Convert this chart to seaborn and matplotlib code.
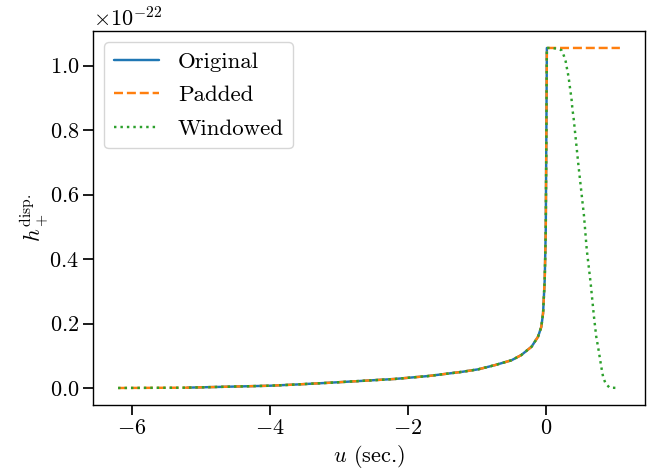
import numpy as np
import pandas as pd
import matplotlib
matplotlib.use("Agg")
import matplotlib.pyplot as plt
import seaborn as sns

# ---- data (h in units of 1e-22) ----
scale = 1e-22
u_original = [-5.2, -4.8, -4.4, -4.0, -3.6, -3.16, -2.67, -2.19, -1.71, -1.22,
              -0.98, -0.74, -0.50, -0.36, -0.21, -0.116, -0.068, -0.043,
              -0.019, -0.004, 0.005, 0.012]
h_original = [0.001, 0.003, 0.005, 0.007, 0.011, 0.016, 0.022, 0.028, 0.037, 0.050,
              0.058, 0.071, 0.086, 0.102, 0.128, 0.159, 0.19, 0.232,
              0.336, 0.49, 0.80, 1.055]

u_pad_left = [-6.2]
h_pad_left = [0.0]
u_pad_right = [1.07]
h_pad_right = [1.055]

u_taper = [0.06, 0.16, 0.225, 0.26, 0.285, 0.30, 0.318, 0.332, 0.354, 0.368,
           0.383, 0.397, 0.47, 0.55, 0.59, 0.607, 0.646, 0.694, 0.727, 0.762,
           0.80, 0.828, 0.863, 0.92, 1.06]
h_taper = [1.055, 1.053, 1.048, 1.03, 1.013, 0.995, 0.975, 0.956, 0.92, 0.90,
           0.863, 0.843, 0.69, 0.534, 0.429, 0.398, 0.326, 0.222, 0.16, 0.117,
           0.066, 0.033, 0.014, 0.001, 0.0]

u_padded = u_pad_left + u_original + u_pad_right
h_padded = h_pad_left + h_original + h_pad_right
u_windowed = u_pad_left + u_original + u_taper
h_windowed = h_pad_left + h_original + h_taper

sns.set_theme(style="ticks")
plt.rcParams.update({
    "font.family": "serif",
    "font.serif": ["cmr10"],
    "mathtext.fontset": "cm",
    "axes.formatter.use_mathtext": True,
    "axes.unicode_minus": True,
    "font.size": 16,
    "axes.labelsize": 16,
    "xtick.labelsize": 16,
    "ytick.labelsize": 16,
    "legend.fontsize": 16.5,
    "axes.linewidth": 1.0,
    "axes.edgecolor": "black",
    "text.color": "black",
    "axes.labelcolor": "black",
    "xtick.color": "black",
    "ytick.color": "black",
    "xtick.major.size": 7,
    "ytick.major.size": 7,
    "xtick.major.width": 1.25,
    "ytick.major.width": 1.25,
    "xtick.major.pad": 2.5,
    "ytick.major.pad": 3.0,
})

fig = plt.figure(figsize=(6.49, 4.69), dpi=100)
ax = fig.add_axes([0.1433, 0.1365, 0.9938 - 0.1433, 0.934 - 0.1365])

pal = sns.color_palette("tab10")
sns.lineplot(x=np.array(u_original), y=np.array(h_original) * scale, ax=ax,
             color=pal[0], lw=1.75, linestyle="-", label="Original",
             sort=False, estimator=None)
sns.lineplot(x=np.array(u_padded), y=np.array(h_padded) * scale, ax=ax,
             color=pal[1], lw=1.75, linestyle="--", label="Padded",
             sort=False, estimator=None)
sns.lineplot(x=np.array(u_windowed), y=np.array(h_windowed) * scale, ax=ax,
             color=pal[2], lw=1.75, linestyle=":", label="Windowed",
             sort=False, estimator=None)

ax.set_xlabel(r"$u$ (sec.)", labelpad=4)
ax.set_ylabel(r"$h_+^{\rm disp.}$", labelpad=-1)
ax.set_xticks([-6, -4, -2, 0])
ax.set_yticks(np.array([0.0, 0.2, 0.4, 0.6, 0.8, 1.0]) * scale)
ax.legend(loc="upper left", labelspacing=0.6)

fig.savefig("out.png", dpi=100)
